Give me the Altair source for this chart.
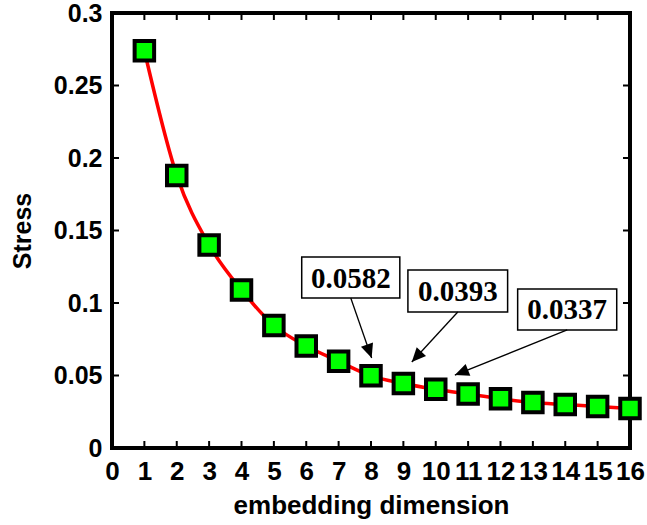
import math
import altair as alt
import pandas as pd

# ---- data ----
dims = list(range(1, 17))
stress = [0.274, 0.188, 0.140, 0.109, 0.0845, 0.0703, 0.0598, 0.0498,
          0.0445, 0.0405, 0.0372, 0.0340, 0.0313, 0.0300, 0.0287, 0.0273]

x_ticks = list(range(0, 17))
y_ticks = [0, 0.05, 0.1, 0.15, 0.2, 0.25, 0.3]

ann_labels = ["0.0582", "0.0393", "0.0337"]
box_x1 = [5.86, 9.14, 12.53]
box_x2 = [8.89, 12.22, 15.59]
box_y1 = [0.1034, 0.0938, 0.0814]
box_y2 = [0.1317, 0.1228, 0.1097]
head_x = [8.02, 9.26, 10.59]
head_y = [0.0621, 0.0593, 0.0503]

# ---- layout ----
W, H = 518, 435
SX = W / 16.0
SY = H / 0.3
TICK = 7

df = pd.DataFrame({"dim": dims, "stress": stress})
xt = pd.DataFrame({"t": x_ticks})
yt = pd.DataFrame({"t": y_ticks})

tail_x = [(a + b) / 2 for a, b in zip(box_x1, box_x2)]
tail_y = box_y1
angles = []
for tx, ty, hx, hy in zip(tail_x, tail_y, head_x, head_y):
    dx = (hx - tx) * SX
    dy = -(hy - ty) * SY
    angles.append(math.degrees(math.atan2(dx, -dy)) % 360)

ann = pd.DataFrame({
    "label": ann_labels,
    "x1": box_x1, "x2": box_x2, "y1": box_y1, "y2": box_y2,
    "cx": tail_x, "cy": [(a + b) / 2 for a, b in zip(box_y1, box_y2)],
    "tx": tail_x, "ty": tail_y, "hx": head_x, "hy": head_y,
    "ang": angles,
})

xs = alt.Scale(domain=[0, 16], nice=False, zero=False)
ys = alt.Scale(domain=[0, 0.3], nice=False)

line = alt.Chart(df).mark_line(color="#ff0000", strokeWidth=3.5, interpolate="monotone").encode(
    x=alt.X("dim:Q", scale=xs, axis=alt.Axis(
        orient="bottom", values=x_ticks, format="d", title="embedding dimension",
        ticks=False, tickSize=0, labelPadding=10, labelFontSize=26,
        labelOverlap=False, labelFlush=False,
        titleFontSize=26, titlePadding=8)),
    y=alt.Y("stress:Q", scale=ys, axis=alt.Axis(
        orient="left", values=y_ticks, format="~g", title="Stress",
        ticks=False, tickSize=0, labelPadding=10, labelFontSize=25,
        labelOverlap=False, labelFlush=False,
        titleFontSize=25, titlePadding=18)),
)

tick_style = dict(color="black", strokeWidth=2)
tb = alt.Chart(xt).mark_rule(**tick_style).encode(
    x=alt.X("t:Q", scale=xs, axis=None), y=alt.value(H), y2=alt.value(H - TICK))
tt = alt.Chart(xt).mark_rule(**tick_style).encode(
    x=alt.X("t:Q", scale=xs, axis=None), y=alt.value(0), y2=alt.value(TICK))
tl = alt.Chart(yt).mark_rule(**tick_style).encode(
    y=alt.Y("t:Q", scale=ys, axis=None), x=alt.value(0), x2=alt.value(TICK))
tr = alt.Chart(yt).mark_rule(**tick_style).encode(
    y=alt.Y("t:Q", scale=ys, axis=None), x=alt.value(W), x2=alt.value(W - TICK))

points = alt.Chart(df).mark_square(
    fill="#00ff00", stroke="black", strokeWidth=4, size=380, opacity=1, fillOpacity=1
).encode(
    x=alt.X("dim:Q", scale=xs, axis=None),
    y=alt.Y("stress:Q", scale=ys, axis=None),
)

boxes = alt.Chart(ann).mark_rect(fill="white", stroke="black", strokeWidth=1.5).encode(
    x=alt.X("x1:Q", scale=xs, axis=None), x2="x2:Q",
    y=alt.Y("y1:Q", scale=ys, axis=None), y2="y2:Q",
)

texts = alt.Chart(ann).mark_text(
    font="Liberation Serif", fontWeight="bold", fontSize=29, color="black",
    align="center", baseline="middle", dy=1
).encode(
    x=alt.X("cx:Q", scale=xs, axis=None),
    y=alt.Y("cy:Q", scale=ys, axis=None),
    text="label:N",
)

rules = alt.Chart(ann).mark_rule(color="black", strokeWidth=1.3).encode(
    x=alt.X("tx:Q", scale=xs, axis=None), x2="hx:Q",
    y=alt.Y("ty:Q", scale=ys, axis=None), y2="hy:Q",
)

heads = alt.Chart(ann).mark_point(
    shape="M0,0L-0.45,1L0.45,1Z", filled=True, color="black", size=800, opacity=1
).encode(
    x=alt.X("hx:Q", scale=xs, axis=None),
    y=alt.Y("hy:Q", scale=ys, axis=None),
    angle=alt.Angle("ang:Q", scale=None),
)

chart = alt.layer(line, tb, tt, tl, tr, points, boxes, texts, rules, heads).resolve_axis(
    x="independent", y="independent"
).properties(
    width=W, height=H,
    autosize=alt.AutoSizeParams(type="none"),
    padding={"left": 112, "top": 13, "right": 17, "bottom": 77},
).configure_view(
    stroke="black", strokeWidth=4
).configure_axis(
    domain=False, grid=False,
    labelFont="Liberation Sans", labelFontWeight="bold", labelColor="black",
    titleFont="Liberation Sans", titleFontWeight="bold", titleColor="black",
)

chart.save("out.html", embed_options={"renderer": "svg", "actions": False})
